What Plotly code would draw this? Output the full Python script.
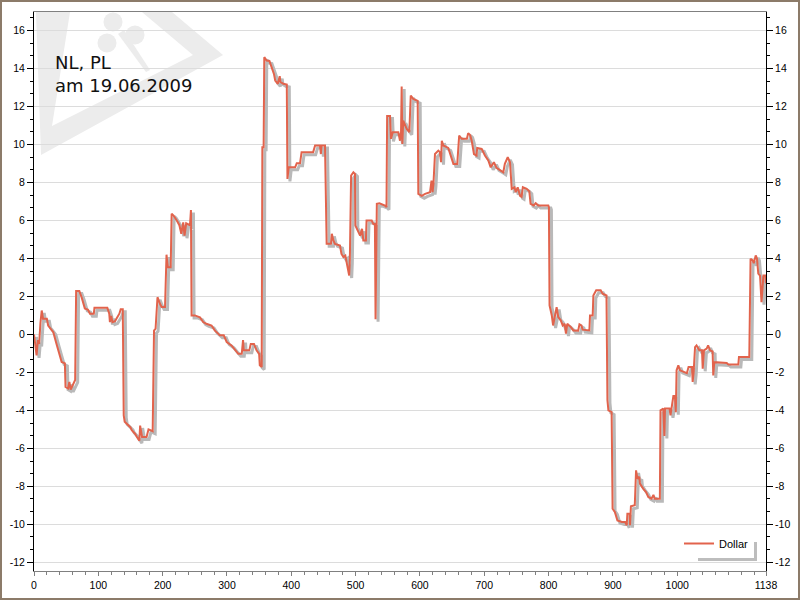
import math
import plotly.graph_objects as go

# Dollar result per hand (hand index / value)
hand = [
    0, 2, 4, 6, 8, 10, 12, 14, 20, 22, 26, 30, 35, 39, 43, 48, 49, 53, 55, 57,
    60, 62, 64, 65.5, 70.5, 74, 79, 84, 87, 93, 94, 114, 117, 118, 120, 122, 126, 132.7, 134.8, 138,
    139.5, 141, 146.7, 150, 152, 157, 160, 163.8, 165, 168, 175, 178, 184.5, 186.6, 189, 192, 196, 198.5, 203.7, 204.7,
    206, 208, 212.5, 214, 217, 222, 226, 229, 232, 234, 236.6, 242.5, 244, 245, 250, 258, 263, 268, 276, 281,
    289, 295, 299.6, 307, 312.5, 317.6, 323, 325, 326, 334.7, 337, 342, 346, 350, 351, 354, 355, 357, 358, 361.8,
    366, 369.5, 373, 375, 379, 382, 383, 387.6, 393, 394, 396, 406, 408.5, 413.6, 416, 434, 437, 444.6, 446, 447,
    452.4, 455, 461.7, 463, 465.4, 468, 475.7, 478, 481, 484, 486, 488.7, 490, 491, 493, 496.5, 499, 499.6, 504, 507,
    510, 512, 516, 517, 525, 527.5, 530, 531, 533, 537, 545.7, 548, 549, 553.5, 555, 557.7, 566.4, 569, 570.6, 571.6,
    572.6, 574, 579.5, 583.5, 585.7, 589.7, 596.5, 597.5, 602.8, 608, 615.7, 618, 619.6, 621, 623.4, 628.6, 631, 632.8, 634, 636.4,
    644, 647, 649.4, 652, 658, 661, 665, 673, 675, 678, 680.5, 684, 688, 689, 696, 701, 706.3, 710, 715, 719,
    725.6, 729.6, 732, 736.5, 740, 742.7, 747, 749, 752, 755.6, 758, 760, 766, 770, 772, 777, 780, 784, 799.6, 800.5,
    801.5, 805, 807, 810, 812.5, 815, 819, 822, 825, 827, 829, 834.4, 838.5, 846, 848, 851, 853, 863.4, 864.4, 868.6,
    869.6, 874, 881, 884, 890, 891.5, 893, 898, 899.5, 903, 907, 914, 919, 921.5, 922.5, 926, 926.6, 928, 934, 936,
    938, 941, 942, 947, 951.5, 955, 960, 963, 965, 973, 974, 978.4, 980, 981, 988, 989.5, 992, 994, 996.5, 997.8,
    999, 1001.7, 1004.4, 1010, 1015, 1017.6, 1023, 1024, 1025.5, 1027.7, 1030, 1034.4, 1038.5, 1039.6, 1041.5, 1045.8, 1048, 1051, 1055, 1056,
    1057.6, 1077, 1079.5, 1095, 1096, 1112, 1114, 1117.4, 1119, 1122, 1124, 1126, 1128.7, 1131, 1134, 1137, 1138,
]
dollar = [
    0.0, -0.6, -1.1, -0.3, -0.5, 0.6, 1.26, 0.83, 0.83, 0.47, 0.3, 0.12, -0.5, -1.0, -1.45, -1.53, -2.77, -2.85, -2.5, -2.9,
    -2.7, -2.5, -2.4, 2.28, 2.28, 1.96, 1.37, 1.3, 1.09, 1.09, 1.4, 1.4, 1.09, 0.65, 0.97, 0.65, 0.7, 1.09, 1.32, 1.32,
    -4.26, -4.6, -4.8, -4.9, -5.05, -5.23, -5.4, -5.6, -4.8, -5.4, -5.4, -5.0, -5.1, 0.2, 0.3, 1.96, 1.6, 1.44, 1.44, 3.54,
    4.2, 3.54, 3.54, 6.35, 6.26, 6.0, 5.75, 5.3, 5.9, 5.2, 5.85, 5.75, 6.55, 1.0, 1.0, 0.9, 0.65, 0.56, 0.47, 0.21,
    -0.05, -0.05, -0.4, -0.58, -0.84, -1.02, -1.02, -0.3, -0.84, -0.84, -0.5, -0.5, -0.84, -1.02, -1.63, -1.72, 9.86, 9.86, 14.6, 14.42,
    14.4, 14.07, 13.72, 13.37, 13.2, 13.6, 13.3, 13.2, 13.16, 8.19, 8.8, 8.8, 9.02, 9.02, 9.6, 9.6, 9.95, 9.95, 9.5, 9.95,
    9.95, 4.77, 4.77, 5.3, 4.95, 4.77, 4.68, 4.24, 4.07, 4.15, 3.72, 3.37, 3.1, 3.9, 8.37, 8.54, 8.45, 5.74, 5.38, 5.2,
    5.56, 4.95, 4.95, 6.0, 6.0, 5.82, 5.82, 0.8, 6.88, 6.9, 6.79, 6.7, 11.5, 11.5, 10.3, 10.65, 10.65, 10.2, 10.65, 13.05,
    10.03, 11.26, 10.82, 10.65, 12.58, 12.4, 12.3, 7.4, 7.3, 7.4, 7.49, 8.1, 7.49, 7.93, 9.5, 9.68, 9.6, 9.07, 10.2, 9.95,
    9.82, 9.5, 9.16, 8.98, 8.98, 10.47, 10.3, 10.3, 10.6, 10.5, 10.2, 9.5, 9.42, 9.82, 9.77, 9.42, 9.16, 8.8, 9.07, 8.77,
    8.63, 8.54, 8.98, 9.33, 9.07, 7.67, 7.75, 7.49, 7.75, 7.3, 7.25, 7.75, 7.67, 7.54, 6.88, 6.79, 6.91, 6.79, 6.79, 6.7,
    1.53, 1.0, 0.47, 1.09, 1.44, 0.91, 0.74, 0.47, 0.56, 0.04, 0.56, 0.39, 0.21, 0.2, 0.53, 0.47, 0.25, 0.21, 1.0, 1.0,
    2.05, 2.32, 2.32, 2.14, 2.05, -3.47, -4.0, -4.09, -9.18, -9.35, -9.8, -9.88, -9.88, -10.05, -9.44, -9.44, -10.05, -9.05, -9.0, -7.16,
    -7.6, -7.5, -7.86, -8.12, -8.3, -8.56, -8.65, -8.45, -8.65, -8.65, -4.0, -3.9, -5.35, -3.9, -3.9, -4.26, -3.5, -3.25, -3.25, -4.1,
    -1.89, -1.63, -1.89, -1.95, -2.04, -1.72, -1.72, -2.5, -2.0, -0.67, -0.58, -0.84, -0.84, -1.81, -0.84, -0.75, -0.58, -0.84, -0.9, -2.16,
    -1.46, -1.51, -1.58, -1.58, -1.19, -1.19, 3.98, 3.9, 3.75, 4.16, 4.0, 3.2, 3.1, 1.7, 3.1, 3.1, 2.7,
]

x_ticks = [0, 100, 200, 300, 400, 500, 600, 700, 800, 900, 1000, 1138]
y_ticks = list(range(-12, 17, 2))
x_range = [0, 1138]
y_range = [-12.46, 16.98]

# plot area in pixels (800x600 page)
L, R, T, B = 34, 766, 12, 571


def paper(xp, yp):
    return (xp - L) / (R - L), (B - yp) / (B - T)


def poly(points):
    parts = []
    for i, (xp, yp) in enumerate(points):
        px_, py_ = paper(xp, yp)
        parts.append(("M" if i == 0 else "L") + f"{px_:.4f},{py_:.4f}")
    return " ".join(parts) + " Z"


def blob(cx, cy, r, n=16):
    return [(cx + r * math.cos(2 * math.pi * k / n), cy + r * math.sin(2 * math.pi * k / n)) for k in range(n)]


# shadow offset, a couple of pixels right/down
dx = 2.5 * (x_range[1] - x_range[0]) / (R - L)
dy = 2.5 * (y_range[1] - y_range[0]) / (B - T)

fig = go.Figure()
fig.add_trace(go.Scatter(
    x=[v + dx for v in hand], y=[v - dy for v in dollar],
    mode="lines", line=dict(color="#b9b9b9", width=3),
    showlegend=False, hoverinfo="skip", yaxis="y",
))
fig.add_trace(go.Scatter(
    x=hand, y=dollar, mode="lines", name="Dollar",
    line=dict(color="#e2634c", width=2), yaxis="y2",
))

wm = "#ececec"
# watermark: triangular frame with a club inside (club drawn as one shape per lobe)
shapes = [
    dict(type="path", xref="paper", yref="paper", layer="below", line=dict(width=0), fillcolor=wm,
         path=poly([(36, 12), (41, 155), (223, 55), (172, 12)]) + " "
         + poly([(70, 12), (52, 126), (193, 55), (142, 12)])),
    dict(type="path", xref="paper", yref="paper", layer="below", line=dict(width=0), fillcolor=wm,
         path=poly([(118, 34), (124, 30), (150, 70), (146, 72)])),
]
for cx, cy in [(113, 22), (135, 35), (107, 43)]:
    shapes.append(dict(type="path", xref="paper", yref="paper", layer="below",
                       line=dict(width=0), fillcolor=wm, path=poly(blob(cx, cy, 9.5))))
# legend shadow
x0, y0 = paper(698, 561)
x1, y1 = paper(757, 542)
shapes.append(dict(type="rect", xref="paper", yref="paper", layer="above",
                   x0=x0, y0=y0, x1=x1, y1=y1, line=dict(width=0), fillcolor="#bdbdbd"))
# outer frame
x0, y0 = paper(1, 599)
x1, y1 = paper(799, 1)
shapes.append(dict(type="rect", xref="paper", yref="paper", layer="above",
                   x0=x0, y0=y0, x1=x1, y1=y1, line=dict(color="#8c7b69", width=2)))

tickfont = dict(family="Liberation Sans, Arial, sans-serif", size=10.5, color="black")
yaxis_common = dict(
    range=y_range, tickvals=y_ticks, ticktext=[str(v) for v in y_ticks],
    ticks="outside", ticklen=6, tickcolor="black",
    linecolor="black", linewidth=1, showline=True, zeroline=False, tickfont=tickfont,
    automargin=False,
    minor=dict(tick0=0, dtick=2 / 3, ticks="outside", ticklen=3, tickcolor="black", showgrid=False),
)

lx, ly = paper(754, 558)
fig.update_layout(
    width=800, height=600,
    margin=dict(l=L, r=800 - R, t=T, b=600 - B),
    paper_bgcolor="white", plot_bgcolor="white",
    font=dict(family="Liberation Sans, Arial, sans-serif", size=11, color="black"),
    xaxis=dict(
        range=x_range, tickvals=x_ticks, ticktext=[str(v) for v in x_ticks],
        ticks="outside", ticklen=4, tickcolor="#808080", showgrid=False, zeroline=False,
        showline=True, linecolor="#808080", linewidth=1, mirror=True, tickfont=tickfont,
        automargin=False,
        minor=dict(dtick=20, ticks="outside", ticklen=3, tickcolor="#808080"),
    ),
    yaxis=dict(showgrid=True, gridcolor="#dcdcdc", gridwidth=1, **yaxis_common),
    yaxis2=dict(overlaying="y", side="right", showgrid=False, **yaxis_common),
    legend=dict(x=lx, y=ly, xanchor="right", yanchor="bottom", bgcolor="white",
                borderwidth=0, font=dict(size=11), itemwidth=30),
    shapes=shapes,
    annotations=[dict(
        text="NL, PL<br>am 19.06.2009", xref="paper", yref="paper",
        x=paper(53, 0)[0], y=paper(0, 50)[1], xanchor="left", yanchor="top",
        showarrow=False, align="left",
        font=dict(family="DejaVu Sans", size=18, color="#111111"),
    )],
)

fig.write_html(
    "out.html",
    config={"displayModeBar": False},
    post_script="document.body.style.margin='0';document.body.style.overflow='hidden';",
)
